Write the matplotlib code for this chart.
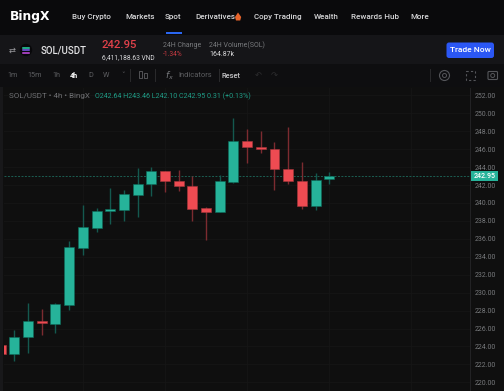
import matplotlib
matplotlib.use("Agg")
import matplotlib.pyplot as plt
from matplotlib.patches import Rectangle, FancyBboxPatch, Circle, Polygon

W, H = 504, 391

# candle data
opens = [224.13, 223.13, 225.00, 226.80, 226.55, 228.62, 234.98, 237.25, 239.07, 239.26, 240.89, 242.16, 243.60,
         242.49, 241.89, 239.40, 238.96, 242.38, 246.91, 246.28, 246.06, 243.75, 242.41, 239.66, 242.64]
closes = [223.13, 225.02, 226.80, 226.58, 228.70, 235.05, 237.28, 239.10, 239.29, 241.00, 242.16, 243.60, 242.45,
          241.86, 239.37, 238.96, 242.41, 246.91, 246.20, 246.01, 243.75, 242.49, 239.66, 242.60, 242.95]
highs = [224.13, 225.88, 228.80, 228.14, 228.85, 235.72, 239.74, 239.40, 241.71, 241.49, 243.90, 244.00, 243.60,
         243.64, 243.05, 239.55, 243.16, 249.51, 248.29, 247.99, 246.79, 248.43, 244.56, 243.30, 243.46]
lows = [223.13, 222.35, 223.24, 225.32, 225.50, 228.10, 234.24, 236.73, 237.65, 237.99, 238.43, 240.77, 241.19,
        241.38, 237.99, 235.83, 238.96, 242.19, 244.50, 245.57, 241.44, 242.11, 239.32, 239.21, 242.10]
price_ticks = list(range(220, 254, 2))
last_price = 242.95

nav_labels = ["Buy Crypto", "Markets", "Spot", "Derivatives", "Copy Trading", "Wealth", "Rewards Hub", "More"]
nav_x = [72, 125, 165, 195, 254, 314, 351, 410]
interval_labels = ["1m", "15m", "1h", "4h", "D", "W"]
interval_x = [7, 27, 52, 70, 88, 103]

GREEN = "#26b39a"
RED = "#ee4b52"
GREEN_WICK = "#14594f"
RED_WICK = "#7c2b30"
BG = "#0f0f0f"
plt.rcParams["font.family"] = ["Roboto", "DejaVu Sans"]

fig = plt.figure(figsize=(W / 100, H / 100), dpi=100, facecolor=BG)

# chart area
ax = fig.add_axes([4.3 / W, 0, (470.5 - 4.3) / W, (H - 88) / H], facecolor=BG)
x_step = 13.69
x0 = 0.7
ax.set_xlim((4.3 - x0) / x_step, (470.5 - x0) / x_step)
ax.set_ylim(252 - (391 - 95.3) / 8.97, 252 - (88 - 95.3) / 8.97)

for p in price_ticks:
    ax.axhline(p, color="#161616", lw=0.6, zorder=0)
for i in [6, 12, 18, 24, 30]:
    ax.axvline(i, color="#161616", lw=0.6, zorder=0)
ax.axhline(last_price, color="#1c5f53", lw=0.7, ls=(0, (2, 1.5)), zorder=1)

for i in range(len(opens)):
    up = closes[i] >= opens[i]
    ax.vlines(i, lows[i], highs[i], color=GREEN_WICK if up else RED_WICK, lw=1.0, zorder=2)
    ax.bar(i, abs(closes[i] - opens[i]), bottom=min(opens[i], closes[i]), width=0.73,
           color=GREEN if up else RED, edgecolor="#0c6a5b" if up else "#a8363c", lw=0.4, zorder=3)

ax.yaxis.tick_right()
ax.set_yticks(price_ticks)
ax.set_yticklabels(["%.2f" % p for p in price_ticks], color="#77797c", fontsize=5.0)
ax.tick_params(axis="y", length=0, pad=3)
ax.set_xticks([])
for s in ["top", "bottom", "left"]:
    ax.spines[s].set_visible(False)
ax.spines["right"].set_color("#232325")
ax.spines["right"].set_linewidth(0.7)

# page furniture, in pixel coordinates
ui = fig.add_axes([0, 0, 1, 1], facecolor="none")
ui.set_xlim(0, W)
ui.set_ylim(H, 0)
ui.axis("off")

ui.add_patch(Rectangle((0, 0), W, 35, color="#0a0a0c", lw=0))
ui.add_patch(Rectangle((0, 35), W, 29, color="#151518", lw=0))
ui.add_patch(Rectangle((0, 64), W, 23, color="#0e0e10", lw=0))
ui.add_patch(Rectangle((0, 87), 3, H - 87, color="#18181a", lw=0))

ui.text(10, 16.5, "BingX", color="white", fontsize=8.8, fontweight="bold", family="DejaVu Sans", va="center")
for label, x in zip(nav_labels, nav_x):
    ui.text(x, 17, label, color="#d8d8da", fontsize=5.8, fontweight="medium", va="center")
ui.add_patch(Polygon([(236, 20.5), (235, 17), (238, 12.5), (241.2, 17), (240.2, 20.5)], color="#e8642b", lw=0))
ui.add_patch(Rectangle((166, 31.5), 16, 2, color="#2a66f0", lw=0))

# symbol row
ui.text(9, 50, "\u21c4", color="#9a9a9e", fontsize=6, va="center", family="DejaVu Sans")
ui.add_patch(Circle((26, 50), 6.2, color="#08080a", lw=0))
for yy, col in [(47.5, "#28d9a8"), (50, "#7d5cf0"), (52.5, "#c84ce8")]:
    ui.plot([23, 29], [yy, yy], color=col, lw=1.1)
ui.text(41, 50.5, "SOL/USDT", color="#e4e4e6", fontsize=6.9, fontweight="medium", va="center")
ui.text(102, 45, "242.95", color="#e0414a", fontsize=8.2, fontweight="medium", va="center")
ui.text(102, 57.5, "6,411,188.63 VND", color="#d8d8da", fontsize=4.8, va="center")
ui.text(163, 45.5, "24H Change", color="#77797c", fontsize=5.0, va="center")
ui.text(163, 54.5, "-1.34%", color="#c93a42", fontsize=4.8, va="center")
ui.text(209, 45.5, "24H Volume(SOL)", color="#77797c", fontsize=5.0, va="center")
ui.text(209, 54.5, "164.87k", color="#d8d8da", fontsize=5.0, va="center")
ui.add_patch(FancyBboxPatch((446.5, 42.5), 47.5, 15.5, boxstyle="round,pad=0,rounding_size=2.5", fc="#2b57f5", ec="none"))
ui.text(470, 50.5, "Trade Now", color="white", fontsize=6.0, fontweight="medium", ha="center", va="center")

# toolbar
for label, x in zip(interval_labels, interval_x):
    ui.text(x, 75.5, label, color="white" if label == "4h" else "#5d5e61", fontsize=5.2, va="center",
            fontweight="bold" if label == "4h" else "normal")
ui.text(121.5, 75, "\u02c5", color="#5d5e61", fontsize=5, va="center", family="DejaVu Sans")
for x in [129.5, 154.5, 218.5, 429.5]:
    ui.plot([x, x], [69, 81], color="#2a2a2c", lw=0.7)
ui.add_patch(Rectangle((139, 71), 3, 7, fc="none", ec="#5d5e61", lw=0.6))
ui.add_patch(Rectangle((144, 73), 2.5, 5, fc="none", ec="#5d5e61", lw=0.6))
ui.text(165, 75.5, "$f_x$", color="#77797c", fontsize=6.5, va="center")
ui.text(178, 75.5, "Indicators", color="#5d5e61", fontsize=5.4, va="center")
ui.text(222, 75.5, "Reset", color="#c8c8ca", fontsize=5.4, fontweight="medium", va="center")
ui.text(258, 75.5, "\u21b6", color="#2e2e30", fontsize=6, va="center", ha="center", family="DejaVu Sans")
ui.text(274, 75.5, "\u21b7", color="#2e2e30", fontsize=6, va="center", ha="center", family="DejaVu Sans")
ui.add_patch(Circle((444.5, 75.5), 5, fc="none", ec="#55565a", lw=0.8))
ui.add_patch(Circle((444.5, 75.5), 2, fc="none", ec="#55565a", lw=0.7))
ui.add_patch(Rectangle((466, 71), 8.5, 9, fc="none", ec="#55565a", lw=0.8, ls=(0, (2, 2))))
ui.add_patch(FancyBboxPatch((488, 71.5), 9.5, 8, boxstyle="round,pad=0,rounding_size=1", fc="none", ec="#55565a", lw=0.8))
ui.add_patch(Circle((492.7, 75.5), 2, fc="none", ec="#55565a", lw=0.7))

# legend line above the candles
ui.text(9, 96, "SOL/USDT \u2022 4h \u2022 BingX", color="#6f7073", fontsize=5.8, va="center")
ui.text(95, 96, "O242.64 H243.46 L242.10 C242.95 0.31 (+0.13%)", color="#1f9c86", fontsize=5.1, va="center")

# last price tag
ui.add_patch(Rectangle((471, 171), 26.5, 10, color=GREEN, lw=0))
ui.text(484.2, 176.2, "242.95", color="white", fontsize=5.0, ha="center", va="center", fontweight="medium")

fig.savefig("out.png", dpi=100, facecolor=BG)
